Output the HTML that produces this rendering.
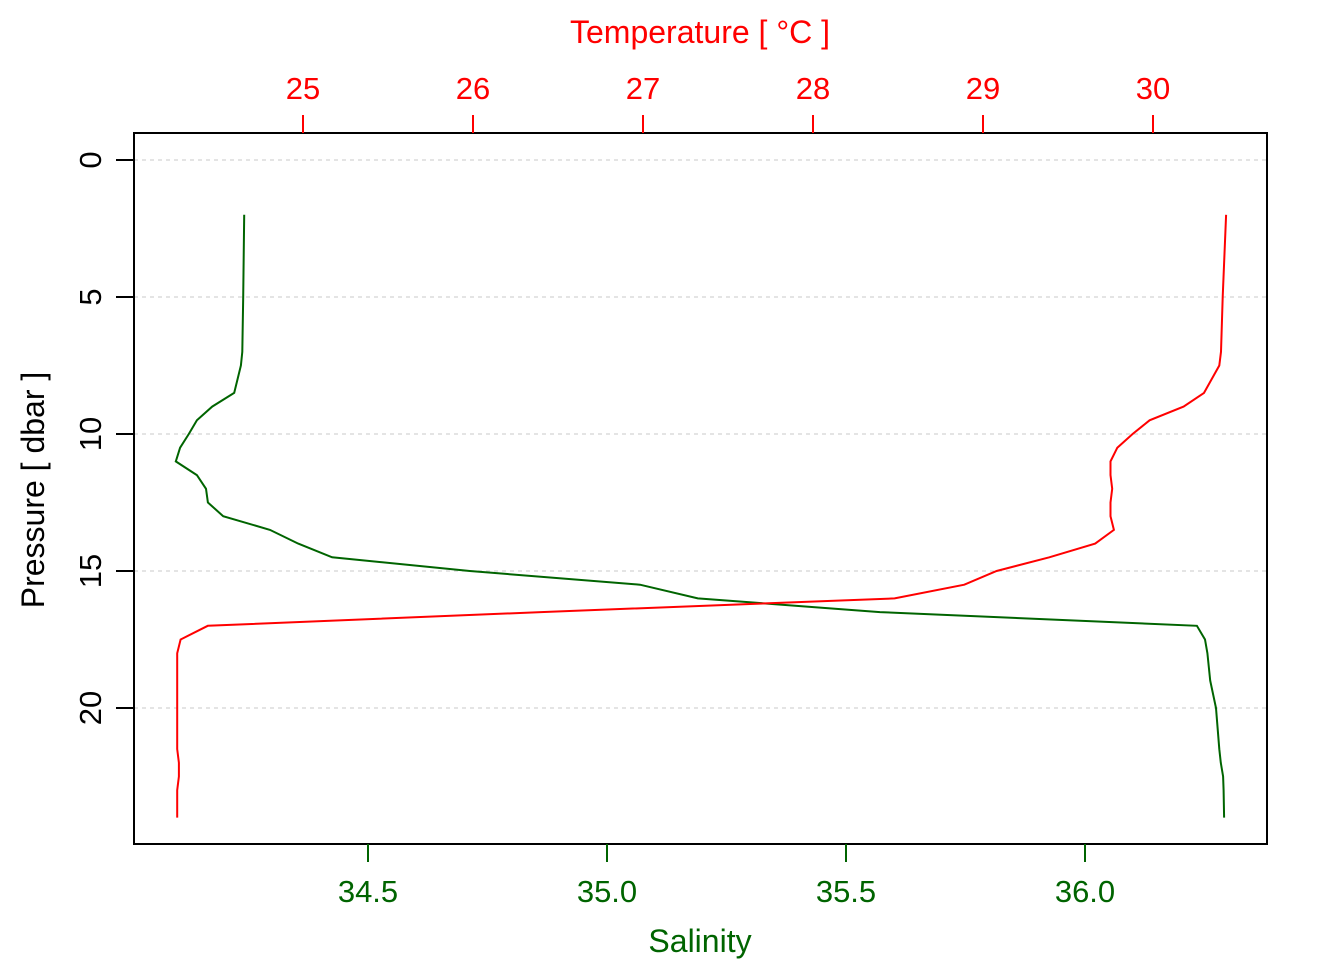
<!DOCTYPE html>
<html><head><meta charset="utf-8">
<style>html,body{margin:0;padding:0;background:#fff}svg{display:block;font-family:"Liberation Sans",Arial,sans-serif}</style>
</head><body>
<svg id="c" width="1344" height="960"></svg>
<script>
const pressure = [2,5,7,7.5,8.5,9,9.5,10,10.5,11,11.5,12,12.5,13,13.5,14,14.5,15,15.5,16,16.5,17,17.5,18,19,20,21.5,22,22.5,23,24];
const salinity = [34.241,34.239,34.237,34.234,34.220,34.174,34.142,34.125,34.107,34.098,34.142,34.161,34.165,34.197,34.295,34.354,34.425,34.713,35.069,35.190,35.571,36.234,36.251,36.256,36.262,36.274,36.281,36.284,36.289,36.290,36.291];
const temperature = [30.43,30.41,30.40,30.39,30.30,30.18,29.98,29.88,29.79,29.75,29.75,29.76,29.75,29.75,29.77,29.66,29.39,29.08,28.89,28.48,26.4,24.44,24.28,24.26,24.26,24.26,24.26,24.27,24.27,24.26,24.26];
const pTicks = [0,5,10,15,20];
const sTicks = ["34.5","35.0","35.5","36.0"];
const tTicks = [25,26,27,28,29,30];

const svg = document.getElementById('c');
const NS = 'http://www.w3.org/2000/svg';
const yP = p => 160 + p * 27.4;
const xS = s => 368 + (s - 34.5) * 478;
const xT = t => 303 + (t - 25) * 170;
function mk(tag, attrs, parent) {
  const e = document.createElementNS(NS, tag);
  for (const k in attrs) e.setAttribute(k, attrs[k]);
  (parent || svg).appendChild(e);
  return e;
}
pTicks.forEach(p => {
  const g = mk('line', {x1:134, x2:1267, y1:yP(p), y2:yP(p), stroke:'#d3d3d3', 'stroke-width':1.3, 'stroke-dasharray':'4,4'});
  
  
});
function series(vals, xf, color, name) {
  const pts = vals.map((v, i) => xf(v).toFixed(1) + ',' + yP(pressure[i]).toFixed(1)).join(' ');
  const l = mk('polyline', {points:pts, fill:'none', stroke:color, 'stroke-width':2});
  
  
}
series(salinity, xS, '#006400', 'salinity-line');
series(temperature, xT, '#ff0000', 'temperature-line');
const box = mk('rect', {x:134, y:133, width:1133, height:711, fill:'none', stroke:'#000', 'stroke-width':2});


pTicks.forEach(p => {
  mk('line', {x1:116, x2:134, y1:yP(p), y2:yP(p), stroke:'#000', 'stroke-width':2});
  const t = mk('text', {x:0, y:0, 'font-size':31, 'text-anchor':'middle', transform:`translate(101,${yP(p)}) rotate(-90)`});
  t.textContent = p;
  
  
});
sTicks.forEach(s => {
  const x = xS(parseFloat(s));
  mk('line', {x1:x, x2:x, y1:844, y2:862, stroke:'#006400', 'stroke-width':2});
  const t = mk('text', {x:x, y:902, 'font-size':31, 'text-anchor':'middle', fill:'#006400'});
  t.textContent = s;
  
  
});
tTicks.forEach(v => {
  const x = xT(v);
  mk('line', {x1:x, x2:x, y1:115, y2:133, stroke:'#ff0000', 'stroke-width':2});
  const t = mk('text', {x:x, y:99, 'font-size':31, 'text-anchor':'middle', fill:'#ff0000'});
  t.textContent = v;
  
  
});
const t1 = mk('text', {x:700, y:952, 'font-size':32, 'text-anchor':'middle', fill:'#006400'});
t1.textContent = 'Salinity';


const t2 = mk('text', {x:700, y:43, 'font-size':32, 'text-anchor':'middle', fill:'#ff0000'});
t2.textContent = 'Temperature [ °C ]';


const t3 = mk('text', {x:0, y:0, 'font-size':32, 'text-anchor':'middle', transform:'translate(44,490) rotate(-90)'});
t3.textContent = 'Pressure [ dbar ]';


</script>
</body></html>
